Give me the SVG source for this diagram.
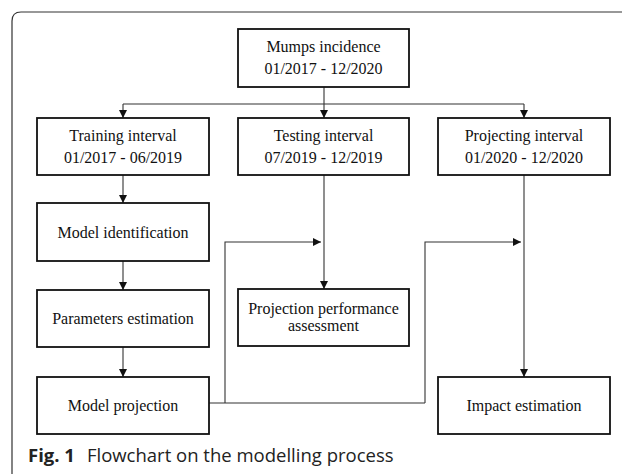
<svg xmlns="http://www.w3.org/2000/svg" width="622" height="474" viewBox="0 0 622 474">
<defs>
<style>
.box{fill:#fff;stroke:#111;stroke-width:1.8}
.t{font-family:"Liberation Serif","Times New Roman",serif;font-size:16px;fill:#111;text-anchor:middle}
.c{fill:none;stroke:#333;stroke-width:1.1}
.frame{fill:none;stroke:#333;stroke-width:1.2}
.cap{font-family:"Open Sans","Noto Sans",sans-serif;font-size:18.5px;fill:#222}
</style>
<marker id="ah" viewBox="0 0 10 10" refX="10" refY="5" markerWidth="8.5" markerHeight="8.5" markerUnits="userSpaceOnUse" orient="auto">
<path d="M0,0 L10,5 L0,10 Z" fill="#111"/>
</marker>
</defs>
<rect width="622" height="474" fill="#fff"/>
<path class="frame" d="M12,480 L12,21 Q12,12 21,12 L630,12"/>

<g id="connectors">
<path class="c" d="M324,87 L324,118" marker-end="url(#ah)"/>
<path class="c" d="M123,104 L524,104"/>
<path class="c" d="M123,104 L123,118" marker-end="url(#ah)"/>
<path class="c" d="M524,104 L524,118" marker-end="url(#ah)"/>
<path class="c" d="M123,175 L123,203" marker-end="url(#ah)"/>
<path class="c" d="M123,261 L123,290" marker-end="url(#ah)"/>
<path class="c" d="M123,347 L123,377" marker-end="url(#ah)"/>
<path class="c" d="M324,175 L324,289" marker-end="url(#ah)"/>
<path class="c" d="M524,175 L524,377" marker-end="url(#ah)"/>
<path class="c" d="M209,403 L425,403"/>
<path class="c" d="M225,403 L225,242 L321,242" marker-end="url(#ah)"/>
<path class="c" d="M425,403 L425,242 L521,242" marker-end="url(#ah)"/>
</g>

<g id="mumps">
<rect class="box" x="238" y="29" width="171" height="58"/>
<text class="t" x="323.5" y="52">Mumps incidence</text>
<text class="t" x="323.5" y="74">01/2017 - 12/2020</text>
</g>
<g id="training">
<rect class="box" x="37" y="118" width="172" height="57"/>
<text class="t" x="123" y="141">Training interval</text>
<text class="t" x="123" y="163">01/2017 - 06/2019</text>
</g>
<g id="testing">
<rect class="box" x="238" y="118" width="171" height="57"/>
<text class="t" x="323.5" y="141">Testing interval</text>
<text class="t" x="323.5" y="163">07/2019 - 12/2019</text>
</g>
<g id="projecting">
<rect class="box" x="438" y="118" width="172" height="57"/>
<text class="t" x="524" y="141">Projecting interval</text>
<text class="t" x="524" y="163">01/2020 - 12/2020</text>
</g>
<g id="model-identification">
<rect class="box" x="37" y="203" width="172" height="58"/>
<text class="t" x="123" y="237.5">Model identification</text>
</g>
<g id="parameters-estimation">
<rect class="box" x="37" y="290" width="172" height="57"/>
<text class="t" x="123" y="324">Parameters estimation</text>
</g>
<g id="projection-performance">
<rect class="box" x="238" y="289" width="171" height="57"/>
<text class="t" x="323.5" y="314">Projection performance</text>
<text class="t" x="323.5" y="331">assessment</text>
</g>
<g id="model-projection">
<rect class="box" x="37" y="377" width="172" height="57"/>
<text class="t" x="123" y="411">Model projection</text>
</g>
<g id="impact-estimation">
<rect class="box" x="438" y="377" width="172" height="57"/>
<text class="t" x="524" y="411">Impact estimation</text>
</g>

<text class="cap" x="28" y="462"><tspan font-weight="bold">Fig. 1</tspan><tspan dx="12">Flowchart on the modelling process</tspan></text>
</svg>
